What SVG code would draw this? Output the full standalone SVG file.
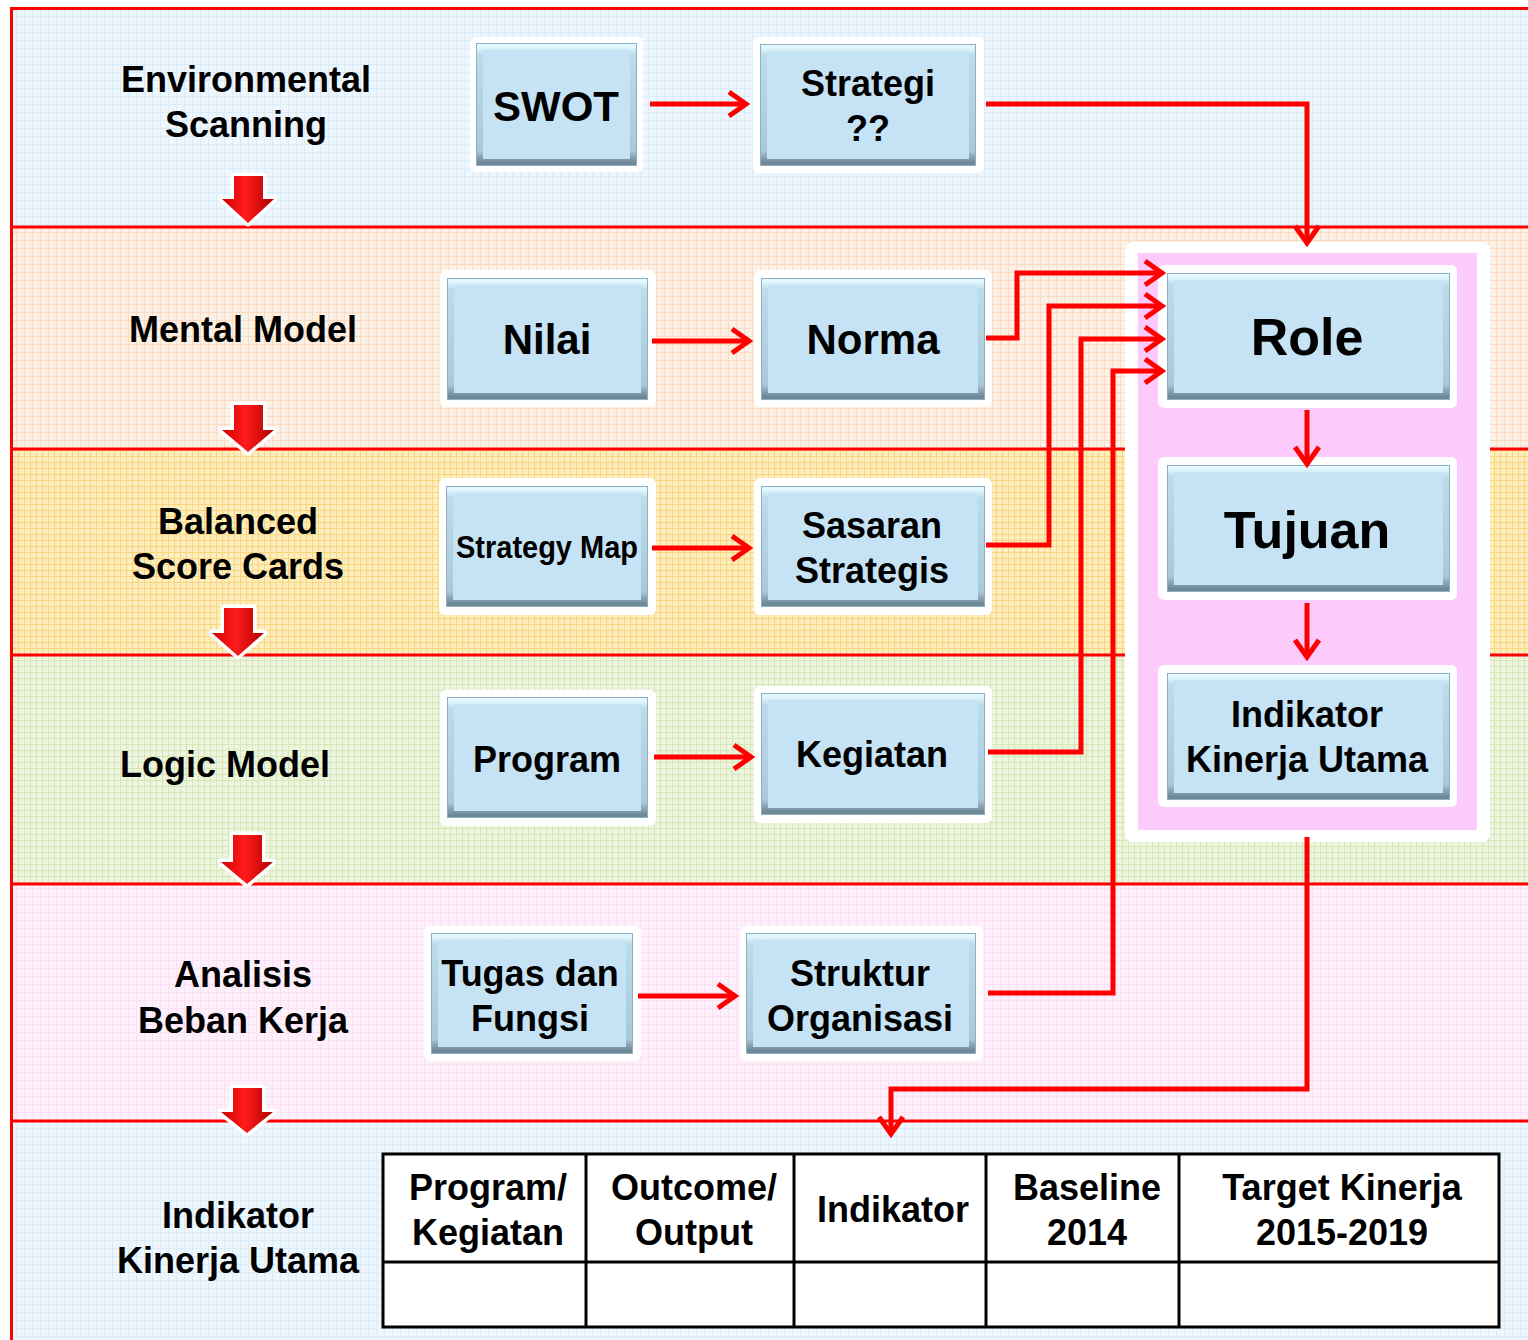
<svg xmlns="http://www.w3.org/2000/svg" width="1528" height="1340" viewBox="0 0 1528 1340">
<defs>
<style>
.t{font-family:"Liberation Sans",Arial,sans-serif;font-weight:bold;fill:#000;text-anchor:middle}
.s36{font-size:36px}
.s42{font-size:42px}
.s52{font-size:52px}
.halo{fill:#fff}
.face{fill:#c5e3f4}
.bev{fill:none;stroke:url(#bevg);stroke-width:7}
.edge{fill:none;stroke:#8fb0c2;stroke-width:1}
.band{stroke:none}
.sep{stroke:#ff0000;stroke-width:3}
.con{fill:none;stroke:#ff0000;stroke-width:5;marker-end:url(#chev)}
.blk{fill:url(#redg);stroke:#fff;stroke-width:7;stroke-linejoin:round;paint-order:stroke}
.tbl{fill:#fff;stroke:#000;stroke-width:3}
.tl{stroke:#000;stroke-width:3}
</style>
<linearGradient id="bevg" x1="0" y1="0" x2="0" y2="1">
<stop offset="0" stop-color="#e3f8fe"/>
<stop offset="0.07" stop-color="#bddcea"/>
<stop offset="0.9" stop-color="#a9c8d9"/>
<stop offset="0.95" stop-color="#8aa6b6"/>
<stop offset="1" stop-color="#6f8897"/>
</linearGradient>
<linearGradient id="redg" x1="0" y1="0" x2="1" y2="0">
<stop offset="0" stop-color="#d00000"/>
<stop offset="0.45" stop-color="#ff1c1c"/>
<stop offset="1" stop-color="#b00000"/>
</linearGradient>
<pattern id="pBlue" width="8" height="8" patternUnits="userSpaceOnUse">
<rect width="8" height="8" fill="#eef6fd"/>
<path d="M0,0.5H8M0.5,0V8" stroke="#d9ecf9" stroke-width="1"/>
</pattern>
<pattern id="pPeach" width="8" height="8" patternUnits="userSpaceOnUse">
<rect width="8" height="8" fill="#fdf0e4"/>
<path d="M0,0.5H8M0.5,0V8" stroke="#fbdcc2" stroke-width="1"/>
</pattern>
<pattern id="pYellow" width="6" height="6" patternUnits="userSpaceOnUse">
<rect width="6" height="6" fill="#fdeebf"/>
<path d="M0,0.5H6M0.5,0V6" stroke="#fbd57e" stroke-width="1"/>
</pattern>
<pattern id="pGreen" width="6" height="6" patternUnits="userSpaceOnUse">
<rect width="6" height="6" fill="#edf4e0"/>
<path d="M0,0.5H6M0.5,0V6" stroke="#d6e7b6" stroke-width="1"/>
</pattern>
<pattern id="pPink" width="8" height="8" patternUnits="userSpaceOnUse">
<rect width="8" height="8" fill="#fef0fb"/>
<path d="M0,0.5H8M0.5,0V8" stroke="#fbe0f6" stroke-width="1"/>
</pattern>
<marker id="chev" markerUnits="userSpaceOnUse" markerWidth="26" markerHeight="30" viewBox="0 0 26 30" refX="22" refY="15" orient="auto">
<path d="M5,3 L22,15 L5,27" fill="none" stroke="#ff0000" stroke-width="5"/>
</marker>
</defs>

<rect width="1528" height="1340" fill="#fff"/>

<g id="bands">
<rect class="band" x="11" y="8" width="1517" height="219" fill="url(#pBlue)"/>
<rect class="band" x="11" y="227" width="1517" height="222" fill="url(#pPeach)"/>
<rect class="band" x="11" y="449" width="1517" height="206" fill="url(#pYellow)"/>
<rect class="band" x="11" y="655" width="1517" height="229" fill="url(#pGreen)"/>
<rect class="band" x="11" y="884" width="1517" height="237" fill="url(#pPink)"/>
<rect class="band" x="11" y="1121" width="1517" height="219" fill="url(#pBlue)"/>
<line class="sep" x1="10" y1="8.5" x2="1528" y2="8.5"/>
<line class="sep" x1="11" y1="227" x2="1528" y2="227"/>
<line class="sep" x1="11" y1="449" x2="1528" y2="449"/>
<line class="sep" x1="11" y1="655" x2="1528" y2="655"/>
<line class="sep" x1="11" y1="884" x2="1528" y2="884"/>
<line class="sep" x1="11" y1="1121" x2="1528" y2="1121"/>
<line class="sep" x1="11.5" y1="7" x2="11.5" y2="1340"/>
</g>

<g id="stage-arrows">
<polygon class="blk" points="234,176 263,176 263,199 274,199 248,223 222,199 234,199"/>
<polygon class="blk" points="234,405 263,405 263,430 274,430 248,452 222,430 234,430"/>
<polygon class="blk" points="224,608 253,608 253,633 264,633 238,656 212,633 224,633"/>
<polygon class="blk" points="233,835 262,835 262,862 273,862 247,884 221,862 233,862"/>
<polygon class="blk" points="233,1088 262,1088 262,1112 273,1112 247,1133 221,1112 233,1112"/>
</g>

<g id="stage-labels">
<text class="t s36" x="246" y="92">Environmental</text>
<text class="t s36" x="246" y="137">Scanning</text>
<text class="t s36" x="243" y="342">Mental Model</text>
<text class="t s36" x="238" y="534">Balanced</text>
<text class="t s36" x="238" y="579">Score Cards</text>
<text class="t s36" x="225" y="777">Logic Model</text>
<text class="t s36" x="243" y="987">Analisis</text>
<text class="t s36" x="243" y="1033">Beban Kerja</text>
<text class="t s36" x="238" y="1228">Indikator</text>
<text class="t s36" x="238" y="1273">Kinerja Utama</text>
</g>

<g id="container">
<rect x="1125" y="242" width="365" height="600" rx="8" fill="#fff"/>
<rect x="1138" y="253" width="339" height="577" fill="#fdcbfb"/>
</g>

<g id="node-swot">
<rect class="halo" x="470" y="37" width="173" height="135" rx="6"/>
<rect class="face" x="476" y="43" width="161" height="123"/>
<rect class="bev" x="479.5" y="46.5" width="154" height="116"/>
<rect class="edge" x="476.5" y="43.5" width="160" height="122"/>
<text class="t s42" x="556" y="121">SWOT</text>
</g>
<g id="node-strategi">
<rect class="halo" x="753" y="37" width="231" height="136" rx="6"/>
<rect class="face" x="760" y="44" width="216" height="122"/>
<rect class="bev" x="763.5" y="47.5" width="209" height="115"/>
<rect class="edge" x="760.5" y="44.5" width="215" height="121"/>
<text class="t s36" x="868" y="96">Strategi</text>
<text class="t s36" x="868" y="141">??</text>
</g>
<g id="node-nilai">
<rect class="halo" x="440" y="270" width="216" height="137" rx="6"/>
<rect class="face" x="447" y="278" width="201" height="122"/>
<rect class="bev" x="450.5" y="281.5" width="194" height="115"/>
<rect class="edge" x="447.5" y="278.5" width="200" height="121"/>
<text class="t s42" x="547" y="354">Nilai</text>
</g>
<g id="node-norma">
<rect class="halo" x="754" y="270" width="238" height="137" rx="6"/>
<rect class="face" x="761" y="278" width="224" height="122"/>
<rect class="bev" x="764.5" y="281.5" width="217" height="115"/>
<rect class="edge" x="761.5" y="278.5" width="223" height="121"/>
<text class="t s42" x="873" y="354">Norma</text>
</g>
<g id="node-strategymap">
<rect class="halo" x="439" y="478" width="217" height="137" rx="6"/>
<rect class="face" x="446" y="486" width="202" height="121"/>
<rect class="bev" x="449.5" y="489.5" width="195" height="114"/>
<rect class="edge" x="446.5" y="486.5" width="201" height="120"/>
<text class="t" x="547" y="558" style="font-size:31px" textLength="182" lengthAdjust="spacingAndGlyphs">Strategy Map</text>
</g>
<g id="node-sasaran">
<rect class="halo" x="754" y="478" width="238" height="137" rx="6"/>
<rect class="face" x="761" y="486" width="224" height="121"/>
<rect class="bev" x="764.5" y="489.5" width="217" height="114"/>
<rect class="edge" x="761.5" y="486.5" width="223" height="120"/>
<text class="t s36" x="872" y="538">Sasaran</text>
<text class="t s36" x="872" y="583">Strategis</text>
</g>
<g id="node-program">
<rect class="halo" x="440" y="690" width="216" height="136" rx="6"/>
<rect class="face" x="447" y="697" width="201" height="121"/>
<rect class="bev" x="450.5" y="700.5" width="194" height="114"/>
<rect class="edge" x="447.5" y="697.5" width="200" height="120"/>
<text class="t s36" x="547" y="772">Program</text>
</g>
<g id="node-kegiatan">
<rect class="halo" x="754" y="686" width="238" height="137" rx="6"/>
<rect class="face" x="761" y="693" width="224" height="122"/>
<rect class="bev" x="764.5" y="696.5" width="217" height="115"/>
<rect class="edge" x="761.5" y="693.5" width="223" height="121"/>
<text class="t s36" x="872" y="767">Kegiatan</text>
</g>
<g id="node-tugas">
<rect class="halo" x="424" y="926" width="217" height="135" rx="6"/>
<rect class="face" x="431" y="933" width="202" height="121"/>
<rect class="bev" x="434.5" y="936.5" width="195" height="114"/>
<rect class="edge" x="431.5" y="933.5" width="201" height="120"/>
<text class="t s36" x="530" y="986">Tugas dan</text>
<text class="t s36" x="530" y="1031">Fungsi</text>
</g>
<g id="node-struktur">
<rect class="halo" x="740" y="926" width="243" height="135" rx="6"/>
<rect class="face" x="746" y="933" width="230" height="121"/>
<rect class="bev" x="749.5" y="936.5" width="223" height="114"/>
<rect class="edge" x="746.5" y="933.5" width="229" height="120"/>
<text class="t s36" x="860" y="986">Struktur</text>
<text class="t s36" x="860" y="1031">Organisasi</text>
</g>
<g id="node-role">
<rect class="halo" x="1158" y="265" width="299" height="143" rx="6"/>
<rect class="face" x="1167" y="273" width="283" height="127"/>
<rect class="bev" x="1170.5" y="276.5" width="276" height="120"/>
<rect class="edge" x="1167.5" y="273.5" width="282" height="126"/>
<text class="t s52" x="1307" y="355">Role</text>
</g>
<g id="node-tujuan">
<rect class="halo" x="1158" y="457" width="299" height="143" rx="6"/>
<rect class="face" x="1167" y="465" width="283" height="127"/>
<rect class="bev" x="1170.5" y="468.5" width="276" height="120"/>
<rect class="edge" x="1167.5" y="465.5" width="282" height="126"/>
<text class="t s52" x="1307" y="548">Tujuan</text>
</g>
<g id="node-iku">
<rect class="halo" x="1158" y="665" width="299" height="142" rx="6"/>
<rect class="face" x="1167" y="673" width="283" height="127"/>
<rect class="bev" x="1170.5" y="676.5" width="276" height="120"/>
<rect class="edge" x="1167.5" y="673.5" width="282" height="126"/>
<text class="t s36" x="1307" y="727">Indikator</text>
<text class="t s36" x="1307" y="772">Kinerja Utama</text>
</g>

<g id="node-table">
<rect class="tbl" x="383" y="1154" width="1116" height="173"/>
<line class="tl" x1="383" y1="1262" x2="1499" y2="1262"/>
<line class="tl" x1="586" y1="1154" x2="586" y2="1327"/>
<line class="tl" x1="794" y1="1154" x2="794" y2="1327"/>
<line class="tl" x1="986" y1="1154" x2="986" y2="1327"/>
<line class="tl" x1="1179" y1="1154" x2="1179" y2="1327"/>
<text class="t s36" x="488" y="1200">Program/</text>
<text class="t s36" x="488" y="1245">Kegiatan</text>
<text class="t s36" x="694" y="1200">Outcome/</text>
<text class="t s36" x="694" y="1245">Output</text>
<text class="t s36" x="893" y="1222">Indikator</text>
<text class="t s36" x="1087" y="1200">Baseline</text>
<text class="t s36" x="1087" y="1245">2014</text>
<text class="t s36" x="1342" y="1200">Target Kinerja</text>
<text class="t s36" x="1342" y="1245">2015-2019</text>
</g>

<g id="connectors">
<path class="con" d="M650,104 L746,104"/>
<path class="con" d="M986,104 L1307,104 L1307,243"/>
<path class="con" d="M652,341 L749,341"/>
<path class="con" d="M986,338 L1017,338 L1017,273 L1162,273"/>
<path class="con" d="M652,548 L749,548"/>
<path class="con" d="M986,545 L1049,545 L1049,306 L1162,306"/>
<path class="con" d="M654,757 L751,757"/>
<path class="con" d="M988,752 L1081,752 L1081,339 L1162,339"/>
<path class="con" d="M638,996 L735,996"/>
<path class="con" d="M988,993 L1113,993 L1113,371 L1162,371"/>
<path class="con" d="M1307,410 L1307,464"/>
<path class="con" d="M1307,603 L1307,657"/>
<path class="con" d="M1307,837 L1307,1089 L891,1089 L891,1134"/>
</g>
</svg>
